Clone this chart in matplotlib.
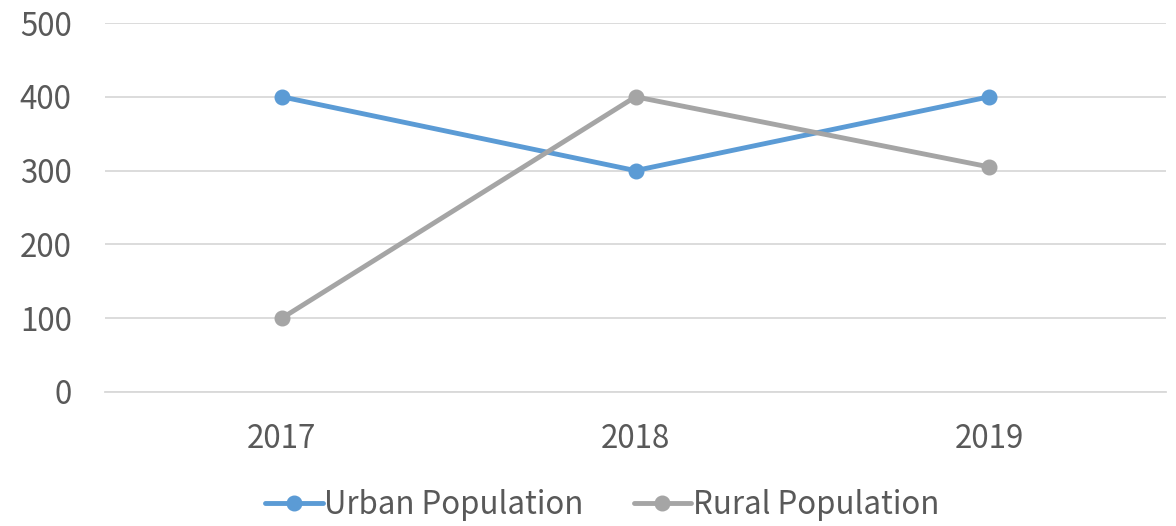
import matplotlib
matplotlib.use("Agg")
import matplotlib.pyplot as plt

years = ["2017", "2018", "2019"]
urban = [400, 300, 400]
rural = [100, 400, 305]

plt.rcParams["font.family"] = ["Noto Sans CJK KR", "DejaVu Sans"]
text_color = "#595959"
grid_color = "#d9d9d9"

fig = plt.figure(figsize=(11.76, 5.26), dpi=100)
ax = fig.add_axes([105 / 1176, 1 - 392 / 526, 1061 / 1176, 369 / 526])

x = list(range(len(years)))
ax.plot(x, urban, color="#5b9bd5", linewidth=3.5, marker="o", markersize=10.5,
        label="Urban Population", solid_capstyle="round")
ax.plot(x, rural, color="#a5a5a5", linewidth=3.5, marker="o", markersize=10.5,
        label="Rural Population", solid_capstyle="round")

ax.set_xlim(-0.5, len(years) - 0.5)
ax.set_ylim(0, 500)
ax.set_yticks(range(0, 501, 100))
ax.set_xticks(x)
ax.set_xticklabels(years)
ax.yaxis.grid(True, color=grid_color, linewidth=1.3)
ax.set_axisbelow(True)
for s in ["top", "right", "left"]:
    ax.spines[s].set_visible(False)
ax.spines["bottom"].set_color(grid_color)
ax.spines["bottom"].set_linewidth(1.3)
ax.tick_params(axis="both", length=0, labelsize=22.5, colors=text_color)
ax.tick_params(axis="y", pad=24)
ax.tick_params(axis="x", pad=22)

leg = ax.legend(loc="center", bbox_to_anchor=(602 / 1176, 1 - 505 / 526),
                bbox_transform=fig.transFigure, ncol=2, frameon=False,
                fontsize=22.5, handlelength=1.85, handletextpad=0.05,
                columnspacing=1.6)
for t in leg.get_texts():
    t.set_color(text_color)

fig.savefig("out.png", dpi=100)
